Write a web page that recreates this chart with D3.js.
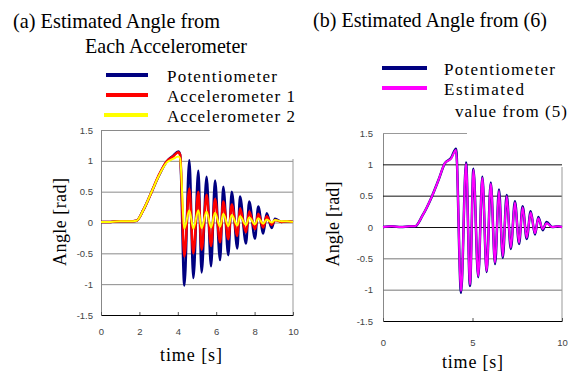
<!DOCTYPE html>
<html>
<head>
<meta charset="utf-8">
<script src="https://cdn.jsdelivr.net/npm/d3@7"></script>
<style>
  body { margin: 0; background: #fff; }
  svg { display: block; }
</style>
</head>
<body>
<svg width="583" height="376"></svg>
<script>
// (a) time points and the three measured angles [rad]
const timeA = [0, 0.5, 1.0, 1.5, 1.85, 2.2, 2.64, 3.0, 3.42, 3.75, 4.03, 4.12, 4.34, 4.60, 4.81, 5.07, 5.24, 5.50, 5.73, 5.94, 6.20, 6.37, 6.63, 6.81, 7.10, 7.24, 7.55, 7.72, 8.02, 8.19, 8.45, 8.63, 8.89, 9.06, 9.4, 9.7, 10];
const potA  = [0.01, 0.01, 0.02, 0.02, 0.03, 0.2, 0.5, 0.75, 0.99, 1.08, 1.15, 1.1, -1.02, 1.01, -0.90, 0.84, -0.81, 0.74, -0.71, 0.68, -0.61, 0.58, -0.53, 0.50, -0.42, 0.42, -0.34, 0.34, -0.26, 0.26, -0.18, 0.15, -0.09, 0.06, 0.01, 0.02, 0.01];
const acc1A = [0.01, 0.01, 0.02, 0.02, 0.03, 0.2, 0.5, 0.76, 0.99, 1.07, 1.14, 1.1, -0.55, 0.55, -0.50, 0.50, -0.44, 0.45, -0.38, 0.38, -0.32, 0.34, -0.27, 0.29, -0.22, 0.23, -0.16, 0.18, -0.11, 0.14, -0.08, 0.10, -0.04, 0.04, 0.01, 0.02, 0.01];
const acc2A = [0.01, 0.01, 0.02, 0.02, 0.03, 0.2, 0.5, 0.75, 0.97, 1.03, 1.07, 1.04, -0.1, 0.2, -0.1, 0.2, -0.09, 0.18, -0.08, 0.16, -0.07, 0.14, -0.06, 0.12, -0.05, 0.10, -0.04, 0.08, -0.03, 0.07, -0.02, 0.05, 0.0, 0.04, 0.02, 0.02, 0.01];

// (b) time points, potentiometer and estimate from (5)
const timeB = [0, 0.5, 1.0, 1.5, 1.79, 2.2, 2.72, 3.1, 3.46, 3.8, 4.08, 4.36, 4.64, 4.86, 5.05, 5.32, 5.55, 5.79, 6.02, 6.26, 6.48, 6.69, 6.91, 7.14, 7.37, 7.60, 7.80, 8.03, 8.25, 8.49, 8.68, 8.92, 9.14, 9.45, 9.75, 10];
const potB = [0.0, 0.01, 0.0, 0.01, 0.01, 0.18, 0.48, 0.75, 1.02, 1.1, 1.25, -1.05, 1.03, -0.94, 0.93, -0.80, 0.80, -0.72, 0.71, -0.59, 0.60, -0.49, 0.51, -0.35, 0.41, -0.27, 0.33, -0.19, 0.25, -0.12, 0.16, -0.05, 0.08, 0.0, 0.01, 0.0];
const estB = [0.0, 0.01, 0.0, 0.01, 0.01, 0.18, 0.48, 0.75, 1.02, 1.09, 1.23, -1.02, 1.01, -0.92, 0.91, -0.78, 0.78, -0.70, 0.69, -0.57, 0.58, -0.47, 0.49, -0.33, 0.39, -0.25, 0.31, -0.17, 0.23, -0.10, 0.14, -0.03, 0.06, 0.0, 0.01, 0.0];

const yTicks = [-1.5, -1, -0.5, 0, 0.5, 1, 1.5];
const xTicksA = [0, 2, 4, 6, 8, 10];
const xTicksB = [0, 5, 10];

const svg = d3.select('svg');
svg.append('rect').attr('width', 583).attr('height', 376).attr('fill', '#fff');

function panel(opt) {
  const x = d3.scaleLinear().domain([0, 10]).range([opt.left, opt.right]);
  const y = d3.scaleLinear().domain([-1.5, 1.5]).range([opt.bottom, opt.top]);
  const g = svg.append('g');

  // gridlines + y labels
  const yAxis = g.append('g')
    .attr('transform', `translate(${opt.left},0)`)
    .call(d3.axisLeft(y).tickValues(yTicks).tickFormat((d) => String(d))
      .tickSizeInner(-(opt.right - opt.left)).tickSizeOuter(0).tickPadding(opt.yPad));
  yAxis.select('.domain').attr('stroke', '#888');
  yAxis.selectAll('.tick line')
    .attr('stroke', (d) => opt.gridColor(d))
    .attr('x2', (d) => d === 1.5 ? opt.topGridEnd - opt.left : opt.right - opt.left);
  yAxis.selectAll('.tick').filter((d) => d === -1.5).select('line').remove();

  // right border
  g.append('line')
    .attr('x1', opt.right).attr('x2', opt.right)
    .attr('y1', opt.borderTop).attr('y2', opt.bottom)
    .attr('stroke', '#999');

  // x axis
  const xAxis = g.append('g')
    .attr('transform', `translate(0,${opt.bottom})`)
    .call(d3.axisBottom(x).tickValues(opt.xTicks).tickSizeInner(-3).tickSizeOuter(0).tickPadding(opt.xPad));
  xAxis.select('.domain').attr('stroke', '#000');
  xAxis.selectAll('.tick line').attr('stroke', '#555');

  g.selectAll('.tick text')
    .style('font-family', "'Liberation Sans'")
    .style('font-size', '9.5px')
    .attr('fill', '#444');

  const line = d3.line()
    .x((d) => x(d[0]))
    .y((d) => y(d[1]))
    .curve(d3.curveMonotoneX);

  opt.series.forEach((s) => {
    g.append('path')
      .datum(s.t.map((t, i) => [t, s.v[i]]))
      .attr('d', line)
      .attr('fill', 'none')
      .attr('stroke', s.color)
      .attr('stroke-width', s.w)
      .attr('stroke-linejoin', 'round');
  });
}

panel({
  left: 101, right: 293, top: 130, bottom: 315,
  topGridEnd: 210, borderTop: 159, yPad: 8, xPad: 13,
  gridColor: () => '#8a8a8a',
  xTicks: xTicksA,
  series: [
    { t: timeA, v: potA, color: '#000080', w: 2.5 },
    { t: timeA, v: acc1A, color: '#ff0000', w: 2.5 },
    { t: timeA, v: acc2A, color: '#ffff00', w: 2 },
  ],
});

panel({
  left: 383, right: 562, top: 133, bottom: 321,
  topGridEnd: 467, borderTop: 167, yPad: 10, xPad: 18,
  gridColor: (d) => d === 1.5 ? '#999' : (d >= 0 ? '#111' : '#777'),
  xTicks: xTicksB,
  series: [
    { t: timeB, v: potB, color: '#000080', w: 2.5 },
    { t: timeB, v: estB, color: '#ff00ff', w: 2 },
  ],
});

// text helper: titles are squeezed, legend/axis words are letter-spaced
function label(x, y, str, size, len, rotate, squeeze) {
  const t = svg.append('text')
    .style('font-family', "'Liberation Serif', serif")
    .style('font-size', size + 'px')
    .attr('fill', '#000')
    .attr('textLength', len)
    .attr('lengthAdjust', squeeze ? 'spacingAndGlyphs' : 'spacing')
    .text(str);
  if (rotate) {
    t.attr('text-anchor', 'middle').attr('transform', `translate(${x},${y}) rotate(-90)`);
  } else {
    t.attr('x', x).attr('y', y);
  }
  return t;
}

// titles
label(13, 28, '(a) Estimated Angle from', 22, 207, false, true);
label(85, 53, 'Each Accelerometer', 22, 162, false, true);
label(313, 27, '(b) Estimated Angle from (6)', 22, 234, false, true);

// legends
const legA = [
  { name: 'Potentiometer', color: '#000080', y: 75, len: 110, x1: 106 },
  { name: 'Accelerometer 1', color: '#ff0000', y: 95, len: 128, x1: 106 },
  { name: 'Accelerometer 2', color: '#ffff00', y: 115, len: 128, x1: 104 },
];
legA.forEach((d) => {
  svg.append('line').attr('x1', d.x1).attr('x2', 148).attr('y1', d.y).attr('y2', d.y)
    .attr('stroke', d.color).attr('stroke-width', 4);
  label(167, d.y + 6.5, d.name, 17, d.len);
});

const legB = [
  { name: 'Potentiometer', color: '#000080', y: 68, len: 111 },
  { name: 'Estimated', color: '#ff00ff', y: 88, len: 80 },
];
legB.forEach((d) => {
  svg.append('line').attr('x1', 382).attr('x2', 427).attr('y1', d.y).attr('y2', d.y)
    .attr('stroke', d.color).attr('stroke-width', 4);
  label(444, d.y + 7, d.name, 17, d.len);
});
label(455, 117, 'value from (5)', 17, 112);

// axis titles
label(66, 222, 'Angle [rad]', 18, 88, true);
label(339, 224, 'Angle [rad]', 18, 85, true);
label(160, 361, 'time [s]', 18, 62);
label(442, 368, 'time [s]', 18, 61);
</script>
</body>
</html>
